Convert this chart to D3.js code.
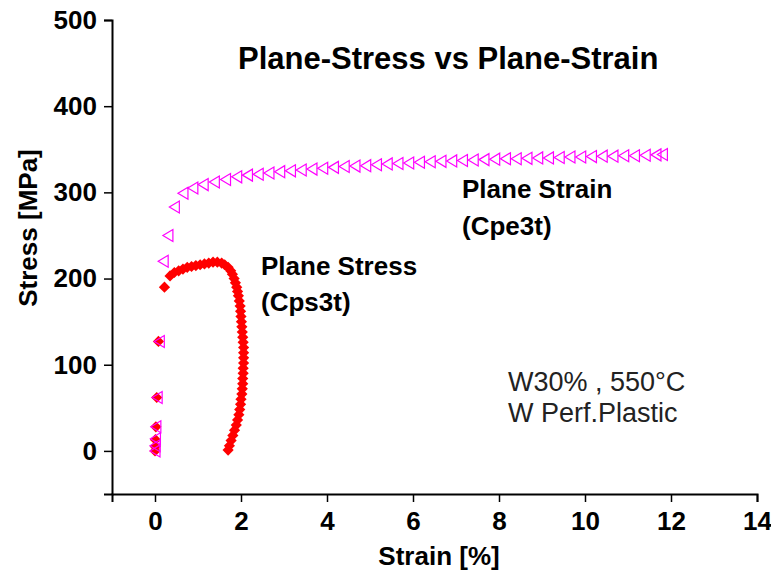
<!DOCTYPE html>
<html>
<head>
<meta charset="utf-8">
<script src="https://cdn.jsdelivr.net/npm/d3@7"></script>
<style>
  body { margin: 0; background: #fff; }
  text { font-family: Arial, "Liberation Sans", sans-serif; }
</style>
</head>
<body>
<script>
// plane strain (Cpe3t) - open magenta triangles
var strainPE = [0, 0, 0.01, 0.02, 0.05, 0.1, 0.19, 0.3, 0.45, 0.65, 0.88, 1.12, 1.38, 1.64, 1.9, 2.15, 2.4, 2.65, 2.9, 3.15,
        3.4, 3.65, 3.9, 4.15, 4.4, 4.65, 4.9, 5.15, 5.4, 5.65, 5.9, 6.15, 6.4, 6.65, 6.9, 7.15, 7.4, 7.65, 7.9, 8.15,
        8.4, 8.65, 8.9, 9.15, 9.4, 9.65, 9.9, 10.15, 10.4, 10.65, 10.9, 11.15, 11.4, 11.65, 11.8]
var stressPE = [0, 6, 14, 28, 62, 127, 220, 250, 283, 299, 305, 309, 312, 315, 318, 320, 321, 322.5, 324, 325,
        326, 327, 328, 329, 330, 330.5, 331, 332, 333, 333.5, 334, 335, 335.5, 336, 336.5, 337, 337.5, 338, 338.5, 339,
        339, 339.5, 340, 340, 340.5, 341, 341, 341.5, 342, 342, 342.5, 342.5, 343, 343.5, 344]

// plane stress (Cps3t) - filled red diamonds
var strainPS = [0, 0.005, 0.01, 0.02, 0.04, 0.08, 0.22, 0.35, 0.45, 0.55, 0.65, 0.75, 0.85, 0.95, 1.05, 1.15, 1.25, 1.35, 1.45, 1.55,
        1.62, 1.7, 1.76, 1.8, 1.84, 1.87, 1.9, 1.92, 1.94, 1.96, 1.98, 1.99, 2.0, 2.01, 2.02, 2.03, 2.04, 2.05, 2.06, 2.06,
        2.06, 2.06, 2.05, 2.05, 2.04, 2.04, 2.03, 2.02, 2.0, 1.99, 1.97, 1.95, 1.92, 1.89, 1.85, 1.81, 1.77, 1.73, 1.7]
var stressPS = [0, 5, 13, 28, 62, 127, 190, 203, 207, 209, 211, 213, 214, 215, 216, 217, 218, 219, 219, 218,
        216, 213, 209, 205, 200, 195, 190, 185, 180, 174, 168, 162, 156, 150, 144, 138, 132, 126, 120, 114,
        108, 102, 96, 90, 84, 78, 72, 66, 60, 54, 48, 42, 36, 30, 24, 18, 12, 6, 1]

var xTicks = [0, 2, 4, 6, 8, 10, 12, 14]
var yTicks = [0, 100, 200, 300, 400, 500]

var width = 771, height = 575
var margin = { top: 20, right: 14, bottom: 81, left: 112 }

var svg = d3.select("body").append("svg")
        .attr("width", width).attr("height", height)

var x = d3.scaleLinear().domain([-1, 14]).range([margin.left, width - margin.right])
var y = d3.scaleLinear().domain([-50, 500]).range([height - margin.bottom, margin.top])

// axes: major ticks labelled, minor ticks in between
var xAxis = d3.axisBottom(x).tickValues(xTicks).tickSize(8).tickPadding(10).tickFormat(d3.format("d"))
var xMinor = d3.axisBottom(x).tickValues(d3.range(-1, 15, 1).filter(d => xTicks.indexOf(d) < 0)).tickSize(5).tickFormat("")
var yAxis = d3.axisLeft(y).tickValues(yTicks).tickSize(8).tickPadding(7).tickFormat(d3.format("d"))
var yMinor = d3.axisLeft(y).tickValues([50, 150, 250, 350, 450]).tickSize(5).tickFormat("")

var gx = svg.append("g").attr("transform", "translate(0," + (height - margin.bottom) + ")")
gx.call(xMinor)
gx.call(xAxis)
var gy = svg.append("g").attr("transform", "translate(" + margin.left + ",0)")
gy.call(yMinor)
gy.call(yAxis)

svg.selectAll(".domain").attr("stroke", "#000").attr("stroke-width", 2)
svg.selectAll(".tick line").attr("stroke", "#000").attr("stroke-width", 1.5)
svg.selectAll(".tick text")
        .attr("fill", "#000")
        .style("font-size", "26px")
        .style("font-weight", "bold")
        .style("font-family", "Arial, 'Liberation Sans', sans-serif")

// plane stress diamonds
var diamond = d3.symbol().type(d3.symbolDiamond2).size(80)
svg.append("g").selectAll("path").data(strainPS.map((d, i) => [d, stressPS[i]]))
        .enter().append("path")
        .attr("d", diamond)
        .attr("transform", d => "translate(" + x(d[0]) + "," + y(d[1]) + ")")
        .attr("fill", "#ff0000")

// plane strain triangles, pointing left
var tri = "M-5,0L5,-6L5,6Z"
svg.append("g").selectAll("path").data(strainPE.map((d, i) => [d, stressPE[i]]))
        .enter().append("path")
        .attr("d", tri)
        .attr("transform", d => "translate(" + x(d[0]) + "," + y(d[1]) + ")")
        .attr("fill", "none")
        .attr("stroke", "#ff00ff")
        .attr("stroke-width", 1.2)

// labels
var labels = [
        { t: "Plane-Stress vs Plane-Strain", x: 238, y: 69, s: 31, w: "bold" },
        { t: "Plane Strain", x: 462, y: 198, s: 26, w: "bold" },
        { t: "(Cpe3t)", x: 462, y: 235, s: 26, w: "bold" },
        { t: "Plane Stress", x: 261, y: 275, s: 26, w: "bold" },
        { t: "(Cps3t)", x: 261, y: 311, s: 26, w: "bold" },
        { t: "W30% , 550°C", x: 508, y: 391, s: 27, w: "normal" },
        { t: "W Perf.Plastic", x: 508, y: 422, s: 27, w: "normal" }
]
svg.append("g").selectAll("text").data(labels).enter().append("text")
        .attr("x", d => d.x).attr("y", d => d.y)
        .style("font-size", d => d.s + "px")
        .style("font-weight", d => d.w)
        .attr("fill", d => d.w == "bold" ? "#000" : "#222")
        .text(d => d.t)

svg.append("text")
        .attr("x", 439).attr("y", 565)
        .attr("text-anchor", "middle")
        .style("font-size", "26px").style("font-weight", "bold")
        .text("Strain [%]")

svg.append("text")
        .attr("transform", "translate(37,228) rotate(-90)")
        .attr("text-anchor", "middle")
        .style("font-size", "26px").style("font-weight", "bold")
        .text("Stress [MPa]")
</script>
</body>
</html>
